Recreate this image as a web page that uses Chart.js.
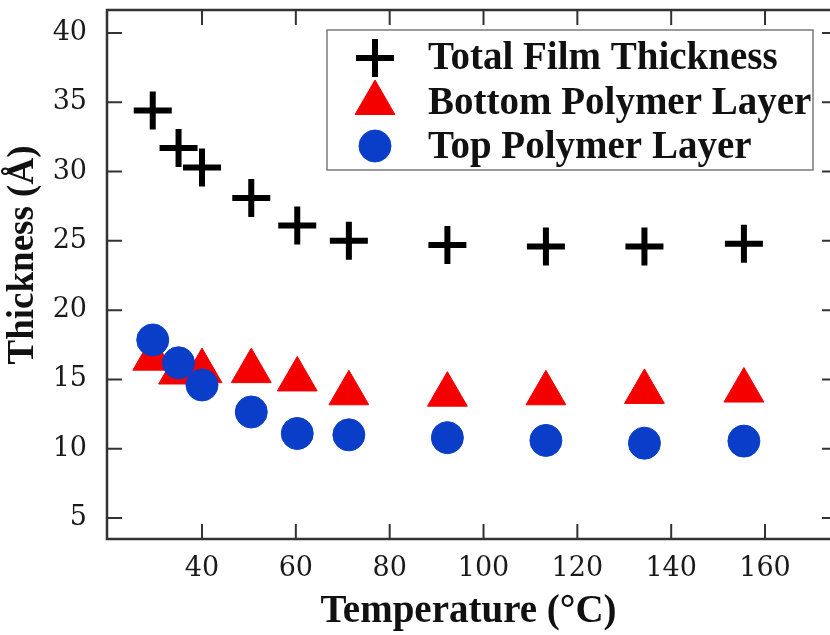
<!DOCTYPE html>
<html><head><meta charset="utf-8">
<script src="https://cdn.jsdelivr.net/npm/chart.js@4"></script>
<style>html,body{margin:0;padding:0;background:#fff}#wrap{width:830px;height:635px;position:relative}</style>
</head><body><div id="wrap"><canvas id="c" width="830" height="635"></canvas></div>
<script>
// ---- data ----
const temperature = [29.5, 35, 40, 50.5, 60.3, 71.3, 92.3, 113.3, 134.3, 155.5];
const totalThickness = [34.4, 31.7, 30.3, 28.1, 26.1, 25.0, 24.7, 24.6, 24.6, 24.8];
const bottomLayer = [16.5, 15.5, 15.6, 15.6, 15.0, 14.0, 13.9, 14.0, 14.1, 14.2];
const topLayer = [17.85, 16.2, 14.6, 12.65, 11.1, 11.0, 10.8, 10.6, 10.4, 10.55];
const xTickValues = [40, 60, 80, 100, 120, 140, 160];
const yTickValues = [5, 10, 15, 20, 25, 30, 35, 40];
const seriesLabels = ['Total Film Thickness', 'Bottom Polymer Layer', 'Top Polymer Layer'];
const xTitle = 'Temperature (°C)';
const yTitle = 'Thickness (Å)';

const RED = '#f40000', BLUE = '#0b3ec8', BLACK = '#000000', FRAME = '#333333';
const toPts = (xs, ys) => xs.map((x, i) => ({x: x, y: ys[i]}));

const markerStyle = [
  {pointStyle: 'cross', radius: 19, borderWidth: 6, color: BLACK},
  {pointStyle: 'triangle', radius: 23, borderWidth: 1, color: RED},
  {pointStyle: 'circle', radius: 16, borderWidth: 1, color: BLUE}
];

function drawMarker(ctx, m, x, y) {
  ctx.save();
  ctx.fillStyle = m.color; ctx.strokeStyle = m.color; ctx.lineWidth = m.borderWidth;
  if (Chart.helpers && Chart.helpers.drawPoint) {
    Chart.helpers.drawPoint(ctx, {pointStyle: m.pointStyle, radius: m.radius, borderWidth: m.borderWidth, rotation: 0}, x, y);
  } else {
    ctx.beginPath();
    const r = m.radius;
    if (m.pointStyle === 'cross') { ctx.moveTo(x - r, y); ctx.lineTo(x + r, y); ctx.moveTo(x, y - r); ctx.lineTo(x, y + r); ctx.stroke(); }
    else if (m.pointStyle === 'triangle') { ctx.moveTo(x, y - r); ctx.lineTo(x + r*0.866, y + r/2); ctx.lineTo(x - r*0.866, y + r/2); ctx.closePath(); ctx.fill(); ctx.stroke(); }
    else { ctx.arc(x, y, r, 0, Math.PI*2); ctx.fill(); ctx.stroke(); }
  }
  ctx.restore();
}

const framePlugin = {
  id: 'frameTicks',
  beforeDatasetsDraw(chart) {
    const {ctx, chartArea: a, scales} = chart;
    ctx.save();
    ctx.strokeStyle = FRAME; ctx.lineWidth = 2.5;
    // frame: left, bottom, top (right border lies just outside the picture)
    ctx.beginPath();
    ctx.moveTo(a.right + 10, a.top); ctx.lineTo(a.left, a.top); ctx.lineTo(a.left, a.bottom); ctx.lineTo(a.right + 10, a.bottom);
    ctx.stroke();
    ctx.lineWidth = 2;
    const TL = 15;
    ctx.beginPath();
    scales.x.ticks.forEach(t => {
      const px = scales.x.getPixelForValue(t.value);
      ctx.moveTo(px, a.bottom); ctx.lineTo(px, a.bottom - TL);
      ctx.moveTo(px, a.top); ctx.lineTo(px, a.top + TL);
    });
    scales.y.ticks.forEach(t => {
      const py = scales.y.getPixelForValue(t.value);
      ctx.moveTo(a.left, py); ctx.lineTo(a.left + TL, py);
      ctx.moveTo(a.right, py); ctx.lineTo(a.right - 8, py);
    });
    ctx.stroke();
    // y axis title
    ctx.translate(33, 255);
    ctx.rotate(-Math.PI / 2);
    ctx.fillStyle = '#111';
    ctx.font = 'bold 37px "Liberation Serif", "Times New Roman", serif';
    ctx.textAlign = 'center'; ctx.textBaseline = 'alphabetic';
    ctx.fillText(yTitle, 0, 0);
    ctx.restore();
  },
  afterDatasetsDraw(chart) {
    const ctx = chart.ctx;
    ctx.save();
    ctx.fillStyle = '#fff';
    ctx.fillRect(327, 30, 486, 140);
    ctx.strokeStyle = '#7a7a7a'; ctx.lineWidth = 1.5;
    ctx.strokeRect(327, 30, 486, 140);
    const rowsMarkerY = [58, 103, 146];
    const rowsTextY = [69, 114, 158];
    ctx.font = 'bold 39px "Liberation Serif", "Times New Roman", serif';
    ctx.textAlign = 'left'; ctx.textBaseline = 'alphabetic';
    chart.data.datasets.forEach((ds, i) => {
      drawMarker(ctx, markerStyle[i], 375, rowsMarkerY[i]);
      ctx.fillStyle = '#111';
      ctx.fillText(ds.label, 428, rowsTextY[i]);
    });
    ctx.restore();
  }
};

const datasets = [totalThickness, bottomLayer, topLayer].map((vals, i) => ({
  label: seriesLabels[i],
  data: toPts(temperature, vals),
  showLine: false,
  pointStyle: markerStyle[i].pointStyle,
  pointRadius: markerStyle[i].radius,
  pointHoverRadius: markerStyle[i].radius,
  pointBorderWidth: markerStyle[i].borderWidth,
  backgroundColor: markerStyle[i].color,
  borderColor: markerStyle[i].color,
  order: 2 - i
}));

new Chart(document.getElementById('c'), {
  type: 'scatter',
  data: {datasets: datasets},
  options: {
    responsive: false,
    animation: false,
    devicePixelRatio: 1,
    layout: {autoPadding: false, padding: {top: 10, right: 0, left: 0, bottom: 0}},
    plugins: {legend: {display: false}, tooltip: {enabled: false}},
    scales: {
      x: {
        type: 'linear', min: 19.75, max: 173.85,
        afterBuildTicks: s => { s.ticks = xTickValues.map(v => ({value: v})); },
        afterFit: s => { s.height = 96; s.paddingLeft = 0; s.paddingRight = 0; },
        grid: {display: false}, border: {display: false},
        ticks: {padding: 6, color: '#1a1a1a', font: {family: '"DejaVu Serif", serif', size: 27}},
        title: {display: true, text: xTitle, color: '#111', padding: {top: 0, bottom: 0},
                font: {family: '"Liberation Serif", "Times New Roman", serif', size: 39, weight: 'bold'}}
      },
      y: {
        type: 'linear', min: 3.485, max: 41.66,
        afterBuildTicks: s => { s.ticks = yTickValues.map(v => ({value: v})); },
        afterFit: s => { s.width = 107; s.paddingTop = 0; s.paddingBottom = 0; },
        grid: {display: false}, border: {display: false},
        ticks: {padding: 12, color: '#1a1a1a', font: {family: '"DejaVu Serif", serif', size: 27}}
      }
    }
  },
  plugins: [framePlugin]
});
</script>
</body></html>
